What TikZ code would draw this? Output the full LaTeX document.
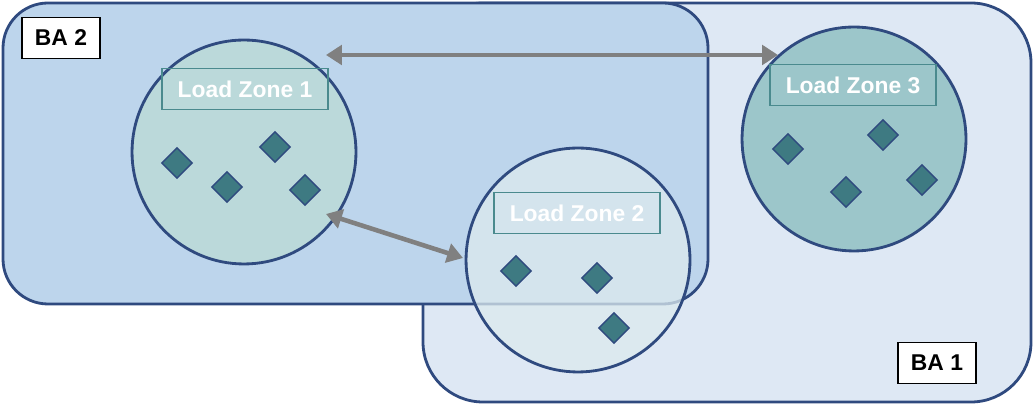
\documentclass[tikz,border=0pt]{standalone}
\usepackage{fontspec}
\setmainfont{Liberation Sans}
\usetikzlibrary{shapes.geometric,arrows.meta}
\definecolor{bord}{HTML}{2F4A7F}
\definecolor{baone}{HTML}{DEE8F4}
\definecolor{batwo}{HTML}{BDD5EC}
\definecolor{lzone}{HTML}{BBD9DA}
\definecolor{lzthree}{HTML}{9CC6CA}
\definecolor{lztwo}{HTML}{DCEAEE}
\definecolor{lzb}{HTML}{4A8A8E}
\definecolor{dia}{HTML}{3E7A82}
\begin{document}
\begin{tikzpicture}[x=0.02cm,y=-0.02cm,
  ba/.style={draw=bord,line width=1.6pt},
  balab/.style={draw=black,fill=white,line width=0.8pt,minimum width=1.56cm,minimum height=0.82cm,font=\bfseries\fontsize{13}{15}\selectfont},
  zone/.style={circle,draw=bord,line width=1.6pt,minimum size=4.48cm},
  zlab/.style={draw=lzb,line width=1pt,text=white,minimum width=3.32cm,minimum height=0.82cm,font=\bfseries\fontsize{13}{15}\selectfont},
  dm/.style={diamond,draw=bord,fill=dia,line width=0.8pt,minimum size=0.62cm,inner sep=0pt},
  arr/.style={draw=gray,line width=2.6pt,{Triangle[length=9pt,width=11pt]}-{Triangle[length=9pt,width=11pt]}}]
\useasboundingbox (0,0) rectangle (1033,404);
\draw[ba,fill=baone,rounded corners=1.2cm] (423,3) rectangle (1031,402);
\draw[ba,fill=batwo,rounded corners=0.9cm] (3,3) rectangle (708,304);
\node[balab] (ba2) at (61,38) {BA 2};
\node[balab] (ba1) at (937,363) {BA 1};
\node[zone,fill=lzone] (z1) at (244,152) {};
\node[zone,fill=lzthree] (z3) at (854,139) {};
\node[zone,fill=lztwo,fill opacity=0.75] (z2) at (578,260) {};
\node[zlab] (l1) at (245,89) {Load Zone 1};
\node[zlab] (l2) at (577,213) {Load Zone 2};
\node[zlab] (l3) at (853,85) {Load Zone 3};
\foreach \n/\p in {a/{(177,163)},b/{(227,187)},c/{(275,147)},d/{(305,190)},
  e/{(516,271)},f/{(597,278)},g/{(614,328)},
  h/{(788,149)},i/{(883,135)},j/{(846,192)},k/{(922,180)}}
  \node[dm] (d\n) at \p {};
\coordinate (a1) at (326,55);
\coordinate (a2) at (778,55);
\coordinate (b1) at (326,214);
\coordinate (b2) at (463,258);
\draw[arr] (a1) -- (a2);
\draw[arr] (b1) -- (b2);
\end{tikzpicture}
\end{document}
